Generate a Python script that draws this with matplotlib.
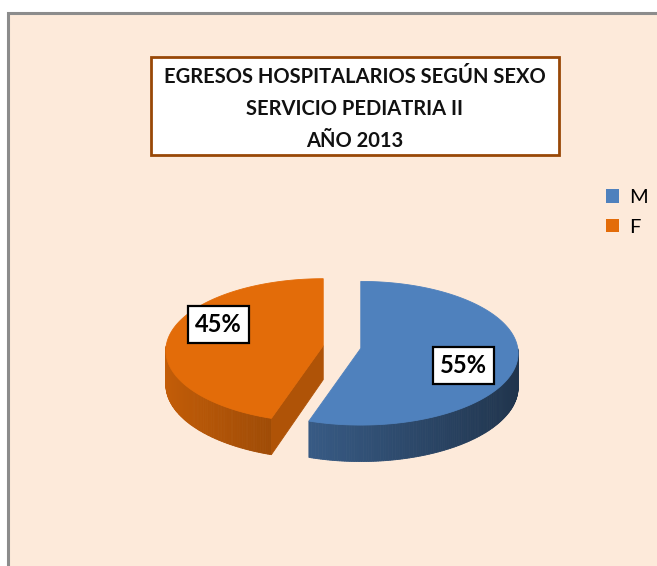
import numpy as np
import matplotlib
matplotlib.use("Agg")
import matplotlib.pyplot as plt
from matplotlib.patches import Polygon, Rectangle, Patch
from matplotlib.colors import to_rgb

# Data
labels = ["M", "F"]
values = [55, 45]
colors = ["#4F81BD", "#E36C09"]
title_lines = ["EGRESOS HOSPITALARIOS SEGÚN SEXO", "SERVICIO PEDIATRIA II", "AÑO 2013"]

plt.rcParams["font.family"] = ["Lato", "DejaVu Sans"]

W, H = 657, 566
fig = plt.figure(figsize=(W / 100, H / 100), dpi=100)
fig.patch.set_facecolor("white")
ax = fig.add_axes([0, 0, 1, 1])
ax.set_xlim(0, W)
ax.set_ylim(H, 0)
ax.axis("off")

# chart area background with grey frame on left/top
ax.add_patch(Rectangle((8, 13), W, H, facecolor="#FDEADA", edgecolor="#8C8C8C", lw=2.2, zorder=0))

# title box
ax.add_patch(Rectangle((151, 57), 408, 98, facecolor="white", edgecolor="#984807", lw=2, zorder=2))
ax.text(355, 109, "\n".join(title_lines), ha="center", va="center", fontsize=14.5,
        fontweight="bold", linespacing=1.72, color="#111111", zorder=3)

# 3D pie geometry (simple perspective: front is a bit bigger than back)
cx0, cy0 = 342, 347
RX, RY, DEPTH, PERSP = 157, 71.5, 34, 0.068
explode = 19


def shade(c, f):
    r, g, b = to_rgb(c)
    return (r * f, g * f, b * f)


def pt(cx, cy, a, r=1.0):
    s = 1.0 / (1.0 + PERSP * np.sin(a) * r)
    return cx + r * RX * np.cos(a) * s, cy - r * RY * np.sin(a) * s


def depth(a, r=1.0):
    return DEPTH / (1.0 + PERSP * np.sin(a) * r)


total = sum(values)
start = np.pi / 2
for lab, v, col in zip(labels, values, colors):
    span = 2 * np.pi * v / total
    t1, t2 = start, start - span      # clockwise
    mid = (t1 + t2) / 2
    cx = cx0 + explode * np.cos(mid)
    cy = cy0 - explode * np.sin(mid) * RY / RX
    angs = np.linspace(t1, t2, 240)

    # outer wall (front half only)
    for a, b in zip(angs[:-1], angs[1:]):
        m = (a + b) / 2
        if np.sin(m) < 0:
            f = 0.86 - 0.23 * (np.cos(m) + 1)
            x1, y1 = pt(cx, cy, a)
            x2, y2 = pt(cx, cy, b)
            ax.add_patch(Polygon([(x1, y1), (x2, y2), (x2, y2 + depth(b)), (x1, y1 + depth(a))],
                                 closed=True, facecolor=shade(col, f), edgecolor=shade(col, f),
                                 lw=0.6, zorder=4))

    # cut faces that face the viewer
    for edge, sign in ((t1, 1), (t2, -1)):
        ny = np.cos(edge) * sign
        if ny < -1e-6:
            ex, ey = pt(cx, cy, edge)
            ax.add_patch(Polygon([(cx, cy), (ex, ey), (ex, ey + depth(edge)), (cx, cy + DEPTH)],
                                 closed=True, facecolor=shade(col, 0.77), edgecolor=shade(col, 0.77),
                                 lw=0.6, zorder=4))

    # top face
    top = [(cx, cy)] + [pt(cx, cy, a) for a in angs]
    ax.add_patch(Polygon(top, closed=True, facecolor=col, edgecolor=col, lw=0.6, zorder=5))

    # percentage label
    lx, ly = pt(cx, cy, mid, 0.66)
    ax.text(lx - (0 if np.cos(mid) > 0 else 3), ly + (10 if np.cos(mid) > 0 else -14), f"{v}%",
            ha="center", va="center", fontsize=17, fontweight="bold", color="black", zorder=7,
            bbox=dict(boxstyle="square,pad=0.3", facecolor="white", edgecolor="black", lw=1.6))
    start = t2

# legend
handles = [Patch(facecolor=c, edgecolor="none") for c in colors]
fig.legend(handles, labels, loc="upper left", bbox_to_anchor=(588 / W, 1 - 171 / H),
           frameon=False, fontsize=14.5, handlelength=0.66, handleheight=0.66,
           handletextpad=0.5, labelspacing=0.62)

fig.savefig("out.png", dpi=100)
